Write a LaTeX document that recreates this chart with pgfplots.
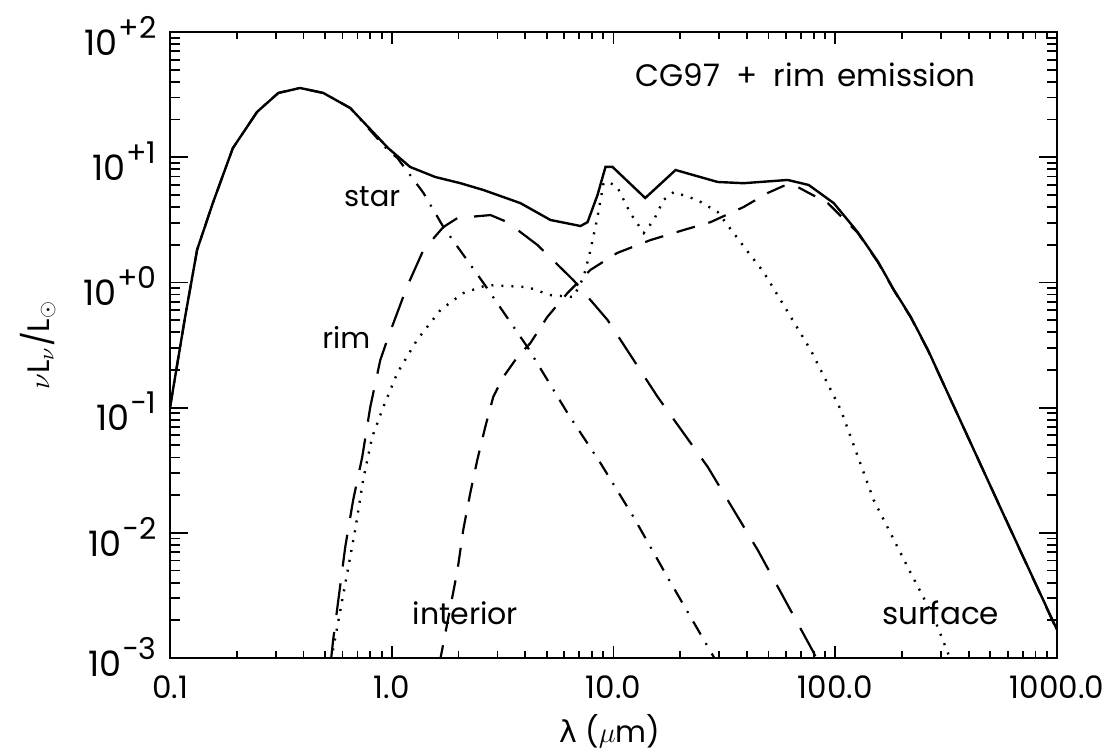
\documentclass[border=0pt]{standalone}
\usepackage{fontspec}
\setmainfont{Poppins}
\newfontfamily\greekfont{DejaVu Sans}
\usepackage{pgfplots}
\pgfplotsset{compat=1.18}

% power-of-ten tick label with a raised, smaller exponent
\newcommand{\dec}[1]{10\kern0.5bp\raisebox{8.5bp}{\fontsize{15bp}{15bp}\selectfont #1}}

\begin{document}
\begin{tikzpicture}
\useasboundingbox (0,0) rectangle (559bp,378bp);
\begin{axis}[
  at={(85bp,49bp)}, anchor=south west,
  scale only axis, width=443.5bp, height=313bp,
  xmode=log, ymode=log,
  xmin=0.1, xmax=1000, ymin=1e-3, ymax=1e2,
  xtick={0.1,1,10,100,1000},
  xticklabels={0.1,1.0,10.0,100.0,1000.0},
  ytick={1e-3,1e-2,1e-1,1,10,100},
  yticklabels={\raisebox{5bp}{\dec{−3}},\dec{−2},\dec{−1},\dec{+0},\dec{+1},\raisebox{-4bp}{\dec{+2}}},
  tick align=inside,
  axis line style={line width=1bp},
  every tick/.style={black, line width=0.9bp},
  xtick style={/pgfplots/major tick length=6bp, /pgfplots/minor tick length=3.5bp},
  ytick style={/pgfplots/major tick length=9bp, /pgfplots/minor tick length=5bp},
  xticklabel style={font=\fontsize{15.5bp}{18bp}\selectfont, anchor=base, inner sep=0pt, yshift=-20bp},
  yticklabel style={font=\fontsize{17.5bp}{18bp}\selectfont, anchor=east, inner sep=0pt, xshift=-6.5bp, yshift=-2bp},
  xlabel={{\greekfont λ} ($\mu$m)},
  ylabel={$\nu$L$_\nu$/L$_\odot$},
  every axis x label/.style={at={(axis description cs:0.496,-0.117)}, anchor=center, font=\fontsize{15bp}{18bp}\selectfont},
  every axis y label/.style={at={(axis description cs:-0.149,0.5)}, rotate=90, anchor=center, font=\fontsize{15.5bp}{18bp}\selectfont},
  line cap=butt,
]

% star (photosphere)
\addplot[black, line width=1.1bp, dash pattern=on 7.5bp off 5bp on 1bp off 5bp] table {
x y
0.1 0.1
0.117 0.53
0.1325 1.82
0.156 4.3
0.192 11.8
0.247 23
0.308 32.6
0.386 35.7
0.491 32.6
0.65 24.7
0.964 11.3
1.06 9.86
1.39 5.18
1.71 2.77
2.59 0.99
4.09 0.305
6.2 0.0906
8.73 0.0361
12.3 0.0134
17.5 0.00444
28.3 0.00102
30 0.0008
};

% inner rim
\addplot[black, line width=1.1bp, dash pattern=on 16bp off 8.5bp] table {
x y
0.53 0.0009
0.544 0.00139
0.617 0.0077
0.670 0.0183
0.736 0.0403
0.800 0.101
0.888 0.240
0.964 0.366
1.17 0.918
1.39 1.82
1.71 2.77
1.98 3.27
2.79 3.45
3.32 3.03
4.54 1.99
6.6 1.04
9.4 0.501
15.8 0.122
26.6 0.0336
44.7 0.00729
80 0.0011
84 0.0009
};

% surface layer
\addplot[black, line width=1.2bp, dash pattern=on 1bp off 4bp] table {
x y
0.53 0.0008
0.535 0.001
0.568 0.00177
0.630 0.00478
0.684 0.0105
0.743 0.0264
0.816 0.0582
0.916 0.101
1.06 0.189
1.30 0.347
1.66 0.603
2.10 0.822
2.70 0.953
4.09 0.918
5.2 0.792
6.6 0.764
7.33 1.10
7.88 1.82
8.47 3.33
9.02 6.22
9.5 6.34
10.4 5.78
11.9 3.58
13.7 2.48
15.2 3.15
16.8 4.55
18.7 5.27
23.9 4.55
29.5 3.65
34.8 2.48
40.7 1.72
47.5 1.21
56.7 0.723
77.5 0.288
106 0.0957
149 0.0183
212 0.00533
278 0.00212
322 0.0011
335 0.0009
};

% disk interior
\addplot[black, line width=1.1bp, dash pattern=on 9.5bp off 7bp] table {
x y
1.63 0.0009
1.66 0.001
1.78 0.0019
1.98 0.00505
2.10 0.0105
2.26 0.0208
2.43 0.0381
2.64 0.070
2.87 0.122
3.18 0.175
3.69 0.254
4.22 0.328
5.03 0.530
6.2 0.822
7.88 1.26
10.4 1.72
14.7 2.18
20.7 2.62
27.4 3.03
38.6 4.0
49.6 5.18
58.5 5.9
67.7 5.78
92.5 4.3
126 2.5
156 1.44
184 0.86
219 0.525
262 0.285
309 0.152
422 0.0458
558 0.0156
1000 0.00166
};

% total
\addplot[black, line width=1.2bp] table {
x y
0.1 0.1
0.117 0.53
0.1325 1.82
0.156 4.3
0.192 11.8
0.247 23
0.308 32.6
0.386 35.7
0.491 32.6
0.65 24.7
0.964 11.8
1.21 8.36
1.57 6.95
2.04 6.2
2.59 5.47
3.80 4.3
5.2 3.15
7.1 2.82
7.64 3.03
8.47 4.99
9.2 8.36
9.9 8.36
13.9 4.72
19.05 7.9
29.5 6.34
38.6 6.2
61 6.58
75.9 6.0
98.4 4.3
126 2.53
156 1.46
184 0.869
219 0.53
262 0.288
309 0.152
422 0.0458
558 0.0156
1000 0.00168
};

\node[font=\fontsize{14.5bp}{18bp}\selectfont] at (axis cs:0.816,4.81) {star};
\node[font=\fontsize{14.5bp}{18bp}\selectfont] at (axis cs:0.624,0.366) {rim};
\node[font=\fontsize{15bp}{18bp}\selectfont] at (axis cs:2.15,0.00229) {interior};
\node[font=\fontsize{15.5bp}{18bp}\selectfont] at (axis cs:299,0.00229) {surface};
\node[font=\fontsize{15.5bp}{18bp}\selectfont] at (axis cs:73.6,45.4) {CG97\hspace{4bp} +\hspace{4bp} rim\hspace{2bp} emission};
\end{axis}
\end{tikzpicture}
\end{document}
